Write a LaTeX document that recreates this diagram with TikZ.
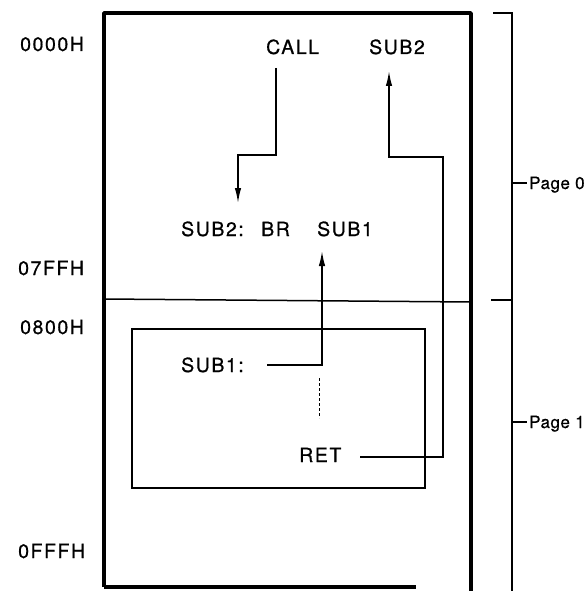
\documentclass[tikz,border=0pt]{standalone}
\usepackage{fontspec}
\setmainfont{TeX Gyre Heros}[LetterSpace=8,FakeBold=0.7]
\newfontfamily\pagefont{TeX Gyre Heros}[LetterSpace=3,FakeBold=0.6]
\usetikzlibrary{arrows.meta}
\begin{document}
\begin{tikzpicture}[x=1pt,y=-1pt,
  txt/.style={anchor=base west,inner sep=0pt,font=\fontsize{19.5}{19.5}\selectfont},
  pagetxt/.style={anchor=base west,inner sep=0pt,font=\pagefont\fontsize{17}{17}\selectfont},
  thick box/.style={line width=3.4pt},
  thin line/.style={line width=1.5pt},
  conn/.style={line width=1.5pt},
  arr/.style={conn,-{Latex[length=15pt,width=6.5pt]}}]
\useasboundingbox (0,0) rectangle (587,591);
% outer memory box
\draw[thick box,line join=round] (104,587) -- (104,13) -- (471,13) -- (471,591);
\draw[thick box] (104,587) -- (416,587);
\draw[thin line] (104,299) -- (471,302);
% inner box
\draw[line width=1.2pt] (132,329) rectangle (425,488);
% right bracket
\draw[line width=1.3pt] (493,13) -- (512,13) -- (512,591);
\draw[line width=1.3pt] (491,300) -- (512,300);
\draw[line width=1.3pt] (512,183) -- (527,183);
\draw[line width=1.3pt] (512,422) -- (527,422);
% address labels
\node[txt] (a0) at (20,51) {0000H};
\node[txt] (a1) at (18,275) {07FFH};
\node[txt] (a2) at (20,334) {0800H};
\node[txt] (a3) at (18,558) {0FFFH};
% page labels
\node[pagetxt] (p0) at (529,189) {Page 0};
\node[pagetxt] (p1) at (529,428) {Page 1};
% program text
\node[txt] (call) at (266,54) {CALL};
\node[txt] (sub2t) at (369,54) {SUB2};
\node[txt] (sub2l) at (181,236) {SUB2:};
\node[txt] (br) at (261,236) {BR};
\node[txt] (sub1t) at (317,236) {SUB1};
\node[txt] (sub1l) at (181,372) {SUB1:};
\node[txt] (ret) at (299,462) {RET};
% connector coordinates
\coordinate (c1) at (276,68);
\coordinate (c2) at (276,155);
\coordinate (c3) at (238,155);
\coordinate (c4) at (238,203);
\coordinate (d1) at (267,365);
\coordinate (d2) at (322,365);
\coordinate (d3) at (322,251);
\coordinate (e1) at (360,457);
\coordinate (e2) at (443,457);
\coordinate (e3) at (443,157);
\coordinate (e4) at (389,157);
\coordinate (e5) at (389,71);
\coordinate (f1) at (319,378);
\coordinate (f2) at (319,418);
\draw[arr] (c1) -- (c2) -- (c3) -- (c4);
\draw[arr] (d1) -- (d2) -- (d3);
\draw[arr] (e1) -- (e2) -- (e3) -- (e4) -- (e5);
\draw[line width=1pt,dash pattern=on 2.5pt off 2.5pt] (f1) -- (f2);
\end{tikzpicture}
\end{document}
